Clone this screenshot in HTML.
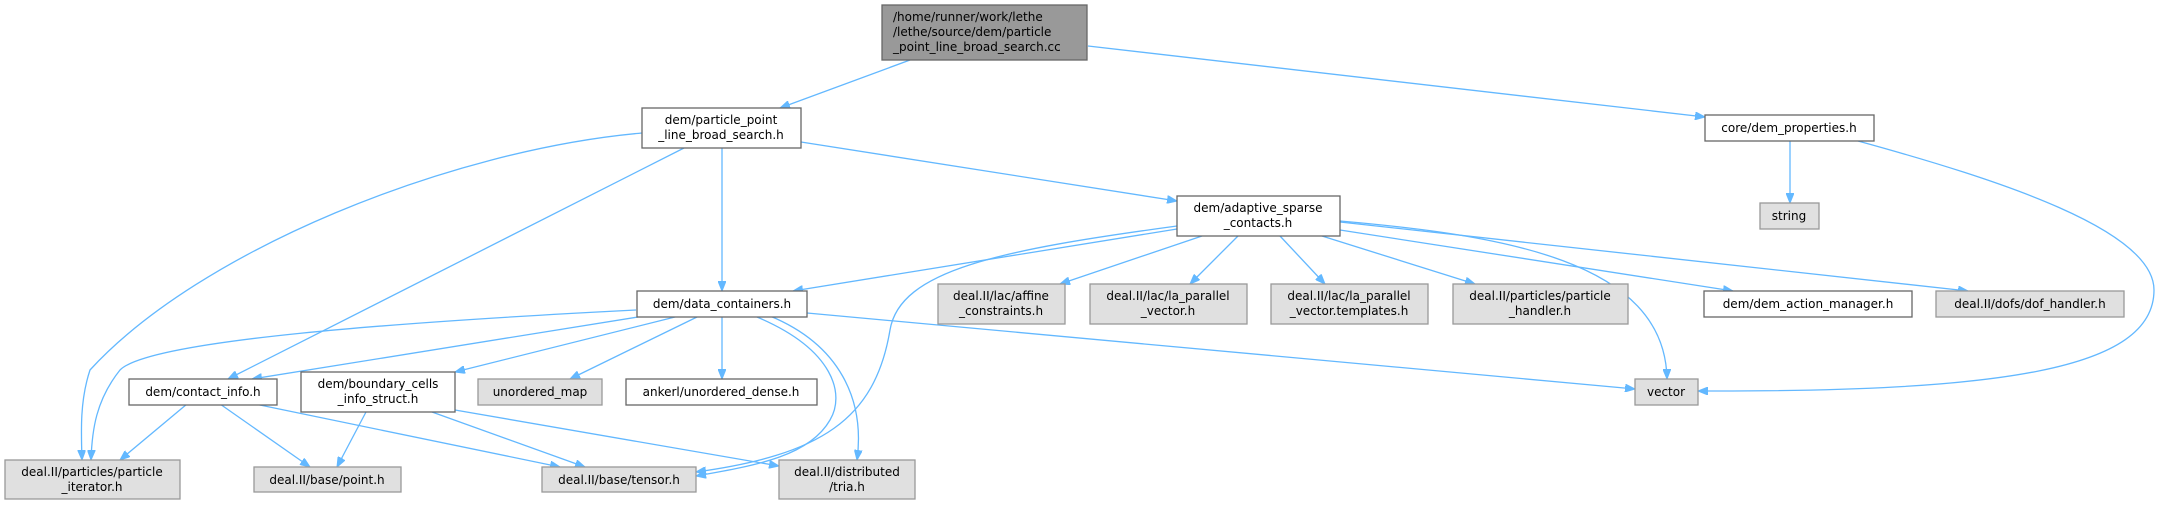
<!DOCTYPE html>
<html><head><meta charset="utf-8"><style>
html,body{margin:0;padding:0;background:#fff;}
svg{display:block;}
text{font-family:"DejaVu Sans","Liberation Sans",sans-serif;font-size:12px;fill:#000;}
.w{fill:#fff;stroke:#666;stroke-width:1.3;}
.g{fill:#e0e0e0;stroke:#999;stroke-width:1.3;}
.r{fill:#999;stroke:#666;stroke-width:1.3;}
.e{fill:none;stroke:#63b8ff;stroke-width:1.3;}
</style></head><body>
<svg width="2158" height="505" viewBox="0 0 2158 505" xmlns="http://www.w3.org/2000/svg">
<defs><marker id="a" markerWidth="11" markerHeight="8" refX="10" refY="4" orient="auto" markerUnits="userSpaceOnUse"><path d="M0,0 L10,4 L0,8 z" fill="#63b8ff" stroke="#63b8ff"/></marker></defs>
<g marker-end="url(#a)">
<path class="e" d="M910,60 L780,108"/>
<path class="e" d="M1088,46 L1705,117"/>
<path class="e" d="M801,142 L1177,201"/>
<path class="e" d="M722,148 L722,291"/>
<path class="e" d="M684,148 L228,379"/>
<path class="e" d="M642,133 C450,150 200,250 90,370 C80,400 81,430 82,460"/>
<path class="e" d="M1177,229 L793,291"/>
<path class="e" d="M1177,226 C1000,250 900,270 890,330 C875,420 820,455 696,472"/>
<path class="e" d="M1202,236 L1060,284"/>
<path class="e" d="M1238,236 L1190,284"/>
<path class="e" d="M1280,236 L1325,284"/>
<path class="e" d="M1322,236 L1475,284"/>
<path class="e" d="M1340,230 L1733,291"/>
<path class="e" d="M1340,222 L1968,291"/>
<path class="e" d="M1340,221 C1500,235 1665,260 1667,379"/>
<path class="e" d="M638,317 L252,379"/>
<path class="e" d="M675,317 L455,372"/>
<path class="e" d="M697,317 L570,379"/>
<path class="e" d="M722,317 L722,379"/>
<path class="e" d="M636,310 C400,322 150,340 120,370 C96,400 92,430 91,460"/>
<path class="e" d="M757,317 C835,350 845,395 830,420 C810,455 760,465 696,476"/>
<path class="e" d="M770,316 C840,345 865,400 857,460"/>
<path class="e" d="M807,313 L1635,389"/>
<path class="e" d="M187,404 L120,460"/>
<path class="e" d="M220,404 L310,467"/>
<path class="e" d="M255,404 L560,467"/>
<path class="e" d="M366,412 L337,467"/>
<path class="e" d="M432,412 L585,467"/>
<path class="e" d="M455,410 L779,466"/>
<path class="e" d="M1790,141 L1790,203"/>
<path class="e" d="M1858,141 C2000,180 2154,230 2154,290 C2154,370 2000,392 1698,391"/>
</g>
<rect class="r" x="882" y="5" width="205" height="55"/>
<text x="893" y="21">/home/runner/work/lethe</text>
<text x="893" y="36">/lethe/source/dem/particle</text>
<text x="893" y="51">_point_line_broad_search.cc</text>
<g text-anchor="middle">
<rect class="w" x="642" y="108" width="159" height="40"/>
<text x="721" y="124">dem/particle_point</text><text x="721" y="139">_line_broad_search.h</text>
<rect class="w" x="1177" y="196" width="163" height="40"/>
<text x="1258" y="212">dem/adaptive_sparse</text><text x="1258" y="227">_contacts.h</text>
<rect class="w" x="637" y="291" width="170" height="26"/>
<text x="722" y="308">dem/data_containers.h</text>
<rect class="w" x="129" y="379" width="148" height="26"/>
<text x="203" y="396">dem/contact_info.h</text>
<rect class="w" x="301" y="372" width="154" height="40"/>
<text x="378" y="388">dem/boundary_cells</text><text x="378" y="403">_info_struct.h</text>
<rect class="g" x="478" y="379" width="124" height="26"/>
<text x="540" y="396">unordered_map</text>
<rect class="w" x="626" y="379" width="191" height="26"/>
<text x="721" y="396">ankerl/unordered_dense.h</text>
<rect class="g" x="5" y="460" width="175" height="39"/>
<text x="92" y="476">deal.II/particles/particle</text><text x="92" y="491">_iterator.h</text>
<rect class="g" x="254" y="467" width="147" height="25"/>
<text x="327" y="484">deal.II/base/point.h</text>
<rect class="g" x="542" y="467" width="154" height="25"/>
<text x="619" y="484">deal.II/base/tensor.h</text>
<rect class="g" x="779" y="460" width="136" height="39"/>
<text x="847" y="476">deal.II/distributed</text><text x="847" y="491">/tria.h</text>
<rect class="g" x="938" y="284" width="127" height="40"/>
<text x="1001" y="300">deal.II/lac/affine</text><text x="1001" y="315">_constraints.h</text>
<rect class="g" x="1090" y="284" width="157" height="40"/>
<text x="1168" y="300">deal.II/lac/la_parallel</text><text x="1168" y="315">_vector.h</text>
<rect class="g" x="1271" y="284" width="157" height="40"/>
<text x="1349" y="300">deal.II/lac/la_parallel</text><text x="1349" y="315">_vector.templates.h</text>
<rect class="g" x="1453" y="284" width="175" height="40"/>
<text x="1540" y="300">deal.II/particles/particle</text><text x="1540" y="315">_handler.h</text>
<rect class="w" x="1704" y="291" width="208" height="26"/>
<text x="1808" y="308">dem/dem_action_manager.h</text>
<rect class="g" x="1936" y="291" width="188" height="26"/>
<text x="2030" y="308">deal.II/dofs/dof_handler.h</text>
<rect class="w" x="1705" y="115" width="169" height="26"/>
<text x="1789" y="132">core/dem_properties.h</text>
<rect class="g" x="1760" y="203" width="59" height="26"/>
<text x="1789" y="220">string</text>
<rect class="g" x="1635" y="379" width="63" height="26"/>
<text x="1666" y="396">vector</text>
</g>
</svg>
</body></html>
